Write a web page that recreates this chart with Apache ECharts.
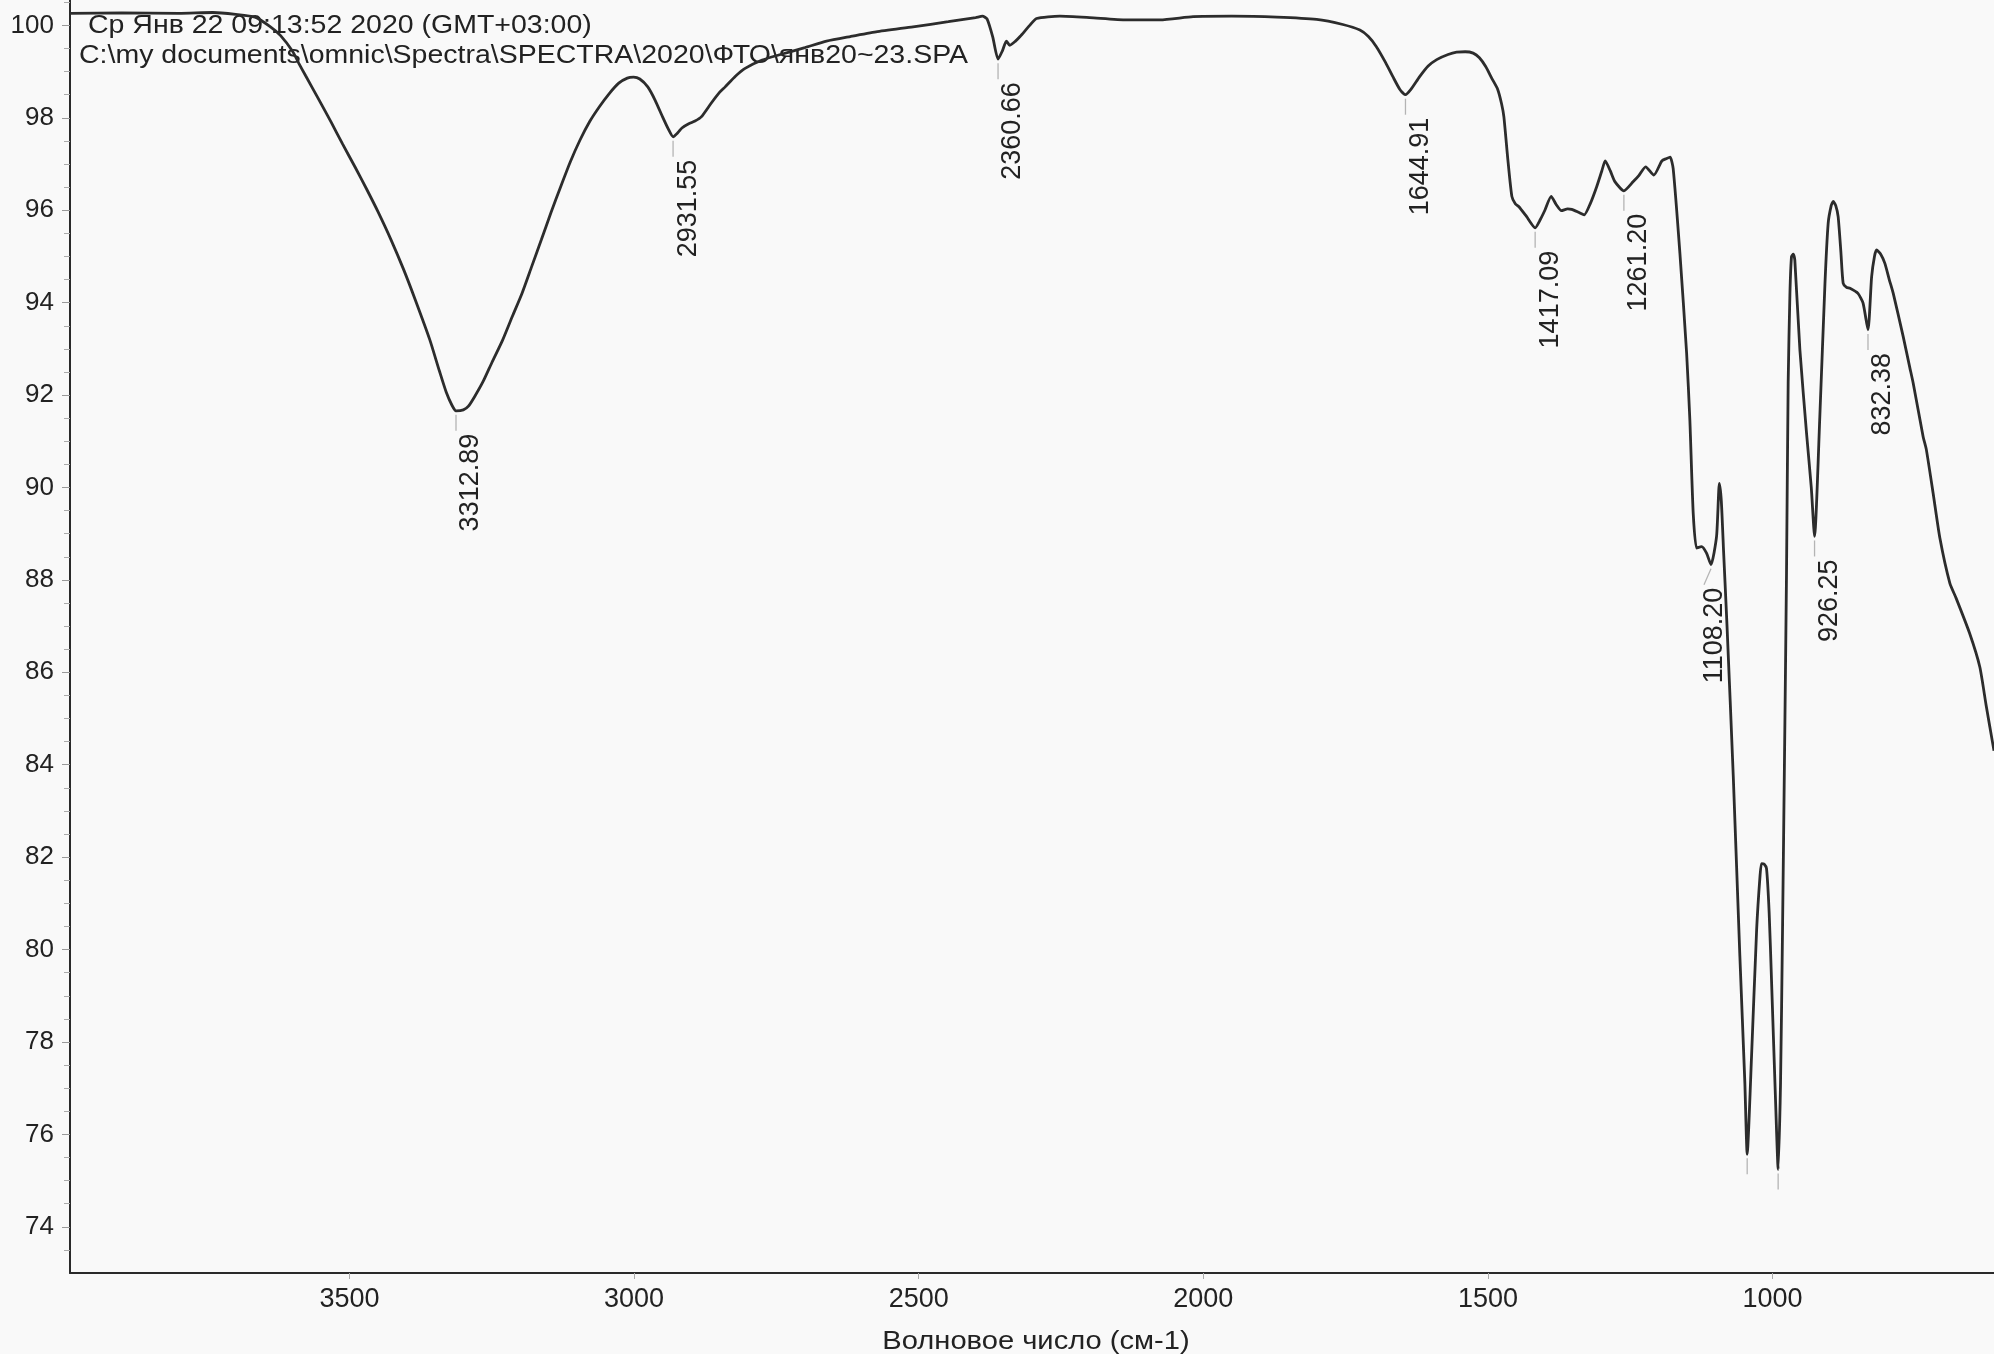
<!DOCTYPE html>
<html>
<head>
<meta charset="utf-8">
<title>IR spectrum</title>
<script src="https://cdn.jsdelivr.net/npm/echarts@6/dist/echarts.min.js"></script>
<style>
  html, body { margin: 0; padding: 0; background: #f9f9f9; }
  #chart { width: 1994px; height: 1354px; }
</style>
</head>
<body>
<div id="chart"></div>
<script>
// spectrum: wavenumber (cm-1) -> transmittance (%)
const wavenumbers = [
  3991, 3900, 3800, 3740, 3700, 3666, 3640, 3621, 3600, 3589, 3577, 3555, 3532, 3512,
  3490, 3470, 3450, 3427, 3405, 3385, 3359, 3342, 3330, 3320, 3312.89, 3300, 3291, 3280,
  3265, 3250, 3231, 3214, 3197, 3180, 3163, 3146, 3129, 3112, 3095, 3078, 3061, 3044,
  3027, 3012, 3001, 2990, 2976, 2963, 2950, 2940, 2931.55, 2923, 2916, 2904, 2893, 2882,
  2865, 2850, 2840, 2822, 2805, 2775, 2746, 2700, 2662, 2620, 2575, 2510, 2448, 2400,
  2388, 2380, 2370, 2360.66, 2353, 2346, 2340, 2330, 2322, 2305, 2293, 2252, 2200, 2135,
  2076, 2018, 1950, 1871, 1801, 1755, 1725, 1710, 1696, 1680, 1667, 1655, 1644.91, 1635,
  1620, 1605, 1590, 1570, 1555, 1540, 1526, 1515, 1504, 1493, 1483, 1476, 1472, 1465,
  1458, 1452, 1446, 1432, 1417.09, 1408, 1400, 1389, 1380, 1371, 1360, 1353, 1340, 1331,
  1320, 1309, 1300, 1294, 1285, 1277, 1261.2, 1244.7, 1235, 1223, 1208.6, 1194.4, 1186, 1180,
  1174.6, 1162.8, 1151, 1145.3, 1139.4, 1133.5, 1124.7, 1116, 1108.2, 1098.4, 1093.5, 1090,
  1086, 1080, 1069, 1057.5, 1048.7, 1044.6, 1037, 1028, 1022, 1019.4, 1015, 1010.6, 1006,
  1001.8, 994.3, 990.2, 986, 982.5, 978.4, 975.5, 972.6, 969.5, 966.7, 963.5, 960.9, 952,
  940.3, 932, 926.25, 917, 908, 902.3, 897, 893.5, 889, 884.8, 880, 876, 870, 864,
  850, 841, 832.38, 826, 821, 817.3, 810, 802.7, 795, 788, 770.6, 759, 753, 735.5,
  730, 718, 706, 688.6, 677.4, 654, 636, 625, 611
];
const transmittance = [
  100.26, 100.27, 100.26, 100.28, 100.24, 100.18, 99.98, 99.78, 99.44, 99.18, 98.91, 98.42, 97.9, 97.43,
  96.93, 96.46, 95.97, 95.36, 94.72, 94.08, 93.2, 92.52, 92.06, 91.78, 91.66, 91.68, 91.76, 91.97,
  92.3, 92.7, 93.19, 93.7, 94.2, 94.78, 95.36, 95.95, 96.51, 97.05, 97.52, 97.92, 98.24, 98.52,
  98.75, 98.86, 98.88, 98.84, 98.67, 98.38, 98.02, 97.76, 97.59, 97.68, 97.78, 97.87, 97.93, 98.02,
  98.31, 98.55, 98.67, 98.9, 99.07, 99.25, 99.36, 99.52, 99.66, 99.76, 99.86, 99.97, 100.08, 100.17,
  100.2, 100.14, 99.75, 99.27, 99.45, 99.66, 99.57, 99.66, 99.76, 100.0, 100.15, 100.2, 100.17, 100.12,
  100.12, 100.19, 100.2, 100.18, 100.13, 100.02, 99.9, 99.76, 99.54, 99.2, 98.89, 98.62, 98.5, 98.62,
  98.89, 99.12, 99.26, 99.37, 99.42, 99.43, 99.4, 99.3, 99.11, 98.85, 98.62, 98.3, 98.02, 97.09,
  96.3, 96.14, 96.08, 95.86, 95.62, 95.8, 96.0, 96.3, 96.12, 95.99, 96.03, 96.02, 95.95, 95.9,
  96.15, 96.51, 96.85, 97.07, 96.85, 96.62, 96.42, 96.62, 96.75, 96.94, 96.76, 97.07, 97.12, 97.15,
  96.9, 95.07, 92.91, 91.46, 89.44, 88.69, 88.72, 88.58, 88.33, 88.94, 90.09, 89.7,
  88.6, 87.0, 83.74, 79.87, 77.12, 75.57, 77.67, 80.43, 81.6, 81.86, 81.85, 81.75, 80.8,
  79.32, 76.56, 75.24, 77.12, 80.43, 84.84, 88.15, 92.26, 94.2, 95.0, 95.05, 94.92, 92.98,
  91.17, 90.0, 88.94, 91.53, 94.4, 95.72, 96.1, 96.19, 96.1, 95.86, 95.1, 94.42, 94.33, 94.31,
  94.2, 93.99, 93.41, 94.56, 95.0, 95.14, 95.05, 94.85, 94.5, 94.2, 93.27, 92.6, 92.26, 91.1,
  90.83, 89.88, 88.9, 87.93, 87.6, 86.85, 86.12, 85.3, 84.3
];

// peak picks (the two deepest ones only have their marker, no number)
const peakWavenumbers = [3312.89, 2931.55, 2360.66, 1644.91, 1417.09, 1261.20, 1108.20, 1044.6, 990.2, 926.25, 832.38];
const peakTransmittance = [91.66, 97.59, 99.27, 98.50, 95.62, 96.42, 88.33, 75.57, 75.24, 88.94, 93.41];
const peakLabels = ['3312.89', '2931.55', '2360.66', '1644.91', '1417.09', '1261.20', '1108.20', '', '', '926.25', '832.38'];

const xTicks = [3500, 3000, 2500, 2000, 1500, 1000];
const yTicks = [74, 76, 78, 80, 82, 84, 86, 88, 90, 92, 94, 96, 98, 100];
const yMinorTicks = [
  73.5, 74.5, 75, 75.5, 76.5, 77, 77.5, 78.5, 79, 79.5, 80.5, 81, 81.5, 82.5, 83, 83.5,
  84.5, 85, 85.5, 86.5, 87, 87.5, 88.5, 89, 89.5, 90.5, 91, 91.5, 92.5, 93, 93.5,
  94.5, 95, 95.5, 96.5, 97, 97.5, 98.5, 99, 99.5, 100.5
];

const headerDate = 'Ср Янв 22 09:13:52 2020 (GMT+03:00)';
const headerFile = 'C:\\my documents\\omnic\\Spectra\\SPECTRA\\2020\\ФТО\\янв20~23.SPA';
const xTitle = 'Волновое число (см-1)';

const FONT = '"Liberation Sans", Arial, sans-serif';
const INK = '#222';

const chart = echarts.init(document.getElementById('chart'));

// the 1108.20 label is pushed left by OMNIC so it clears the curve
const labelShift = { '1108.20': 4 };

function renderPeak(params, api) {
  const p = api.coord([api.value(0), api.value(1)]);
  const text = peakLabels[params.dataIndex];
  const dx = labelShift[text] !== undefined ? labelShift[text] : 15;
  const children = [{
    type: 'line',
    shape: { x1: p[0], y1: p[1] + 4, x2: p[0] + (dx < 10 ? -7 : 0), y2: p[1] + 20 },
    style: { stroke: '#b4b4b4', lineWidth: 1.3 }
  }];
  if (text) {
    children.push({
      type: 'text',
      x: p[0] + dx,
      y: p[1] + 23,
      rotation: Math.PI / 2,
      style: {
        text: text, fontSize: 27, fontFamily: FONT, fill: INK,
        align: 'right', verticalAlign: 'middle'
      }
    });
  }
  return { type: 'group', children: children };
}

const option = {
  backgroundColor: '#f9f9f9',
  animation: false,
  grid: { left: 70, right: 0, top: 0, bottom: 81 },
  xAxis: {
    type: 'value',
    inverse: true,
    min: 611,
    max: 3991,
    axisLine: { lineStyle: { color: '#2a2a2a', width: 2 } },
    axisTick: { show: true, customValues: xTicks, length: 6, lineStyle: { color: '#aaa' } },
    axisLabel: {
      customValues: xTicks, margin: 13, fontSize: 27, fontFamily: FONT, color: INK,
      formatter: (v) => String(v)
    },
    splitLine: { show: false }
  },
  yAxis: [
    {
      type: 'value',
      min: 73,
      max: 100.55,
      axisLine: { show: true, lineStyle: { color: '#2a2a2a', width: 2 } },
      axisTick: { show: true, customValues: yTicks, length: 8, lineStyle: { color: '#999' } },
      axisLabel: { customValues: yTicks, margin: 16, fontSize: 26, fontFamily: FONT, color: INK },
      splitLine: { show: false }
    },
    {
      type: 'value',
      min: 73,
      max: 100.55,
      position: 'left',
      axisLine: { show: false },
      axisTick: { show: true, customValues: yMinorTicks, length: 6, lineStyle: { color: '#aaa' } },
      axisLabel: { show: false },
      splitLine: { show: false }
    }
  ],
  graphic: [
    {
      type: 'text', x: 88, y: 26, scaleX: 1.14,
      style: { text: headerDate, fontSize: 25, fontFamily: FONT, fill: INK, verticalAlign: 'middle' }
    },
    {
      type: 'text', x: 79, y: 56, scaleX: 1.14,
      style: { text: headerFile, fontSize: 25, fontFamily: FONT, fill: INK, verticalAlign: 'middle' }
    },
    {
      type: 'text', x: 1036, y: 1342, scaleX: 1.12,
      style: { text: xTitle, fontSize: 26, fontFamily: FONT, fill: INK, align: 'center', verticalAlign: 'middle' }
    }
  ],
  series: [
    {
      name: 'spectrum',
      type: 'line',
      data: wavenumbers.map((w, i) => [w, transmittance[i]]),
      symbol: 'none',
      smooth: 0.2,
      lineStyle: { color: '#2c2c2c', width: 2.8 },
      z: 3
    },
    {
      name: 'peaks',
      type: 'custom',
      data: peakWavenumbers.map((w, i) => [w, peakTransmittance[i]]),
      renderItem: renderPeak,
      z: 2
    }
  ]
};

chart.setOption(option);
</script>
</body>
</html>
